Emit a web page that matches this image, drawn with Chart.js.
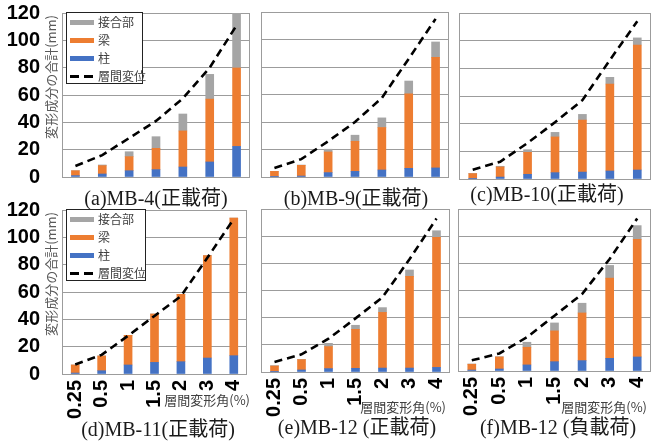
<!DOCTYPE html>
<html>
<head>
<meta charset="utf-8">
<script src="https://cdn.jsdelivr.net/npm/chart.js@4.4.1/dist/chart.umd.min.js"></script>
<style>
html,body{margin:0;padding:0;background:#fff}
#wrap{position:relative;width:652px;height:441px;overflow:hidden;background:#fff}
canvas{position:absolute;left:0;top:0}
.ttl{position:absolute;font-family:"Liberation Serif","Times New Roman","Noto Sans CJK JP",serif;font-size:20px;color:#1a1a1a;white-space:nowrap;transform:translate(-50%,-50%);line-height:1}
.xt{position:absolute;font-family:"Noto Sans CJK JP",sans-serif;font-size:13px;color:#404040;white-space:nowrap;line-height:16px;transform:translate(-100%,-50%)}
.yt{position:absolute;font-family:"Noto Sans CJK JP",sans-serif;font-size:13px;color:#595959;line-height:16px;white-space:nowrap;transform-origin:0 0;transform:rotate(-90deg) translateX(-100%)}
.lg{position:absolute;border:1px solid #222;background:#fff;box-sizing:border-box;font-family:"Noto Sans CJK JP",sans-serif;font-size:12px;color:#404040}
.lg .it{position:absolute;left:3px;height:18px;line-height:18px;white-space:nowrap}
.sw{display:inline-block;width:24px;height:5px;vertical-align:middle;margin-right:4px;position:relative;top:-1px}
.sw.dash{height:3px;background:repeating-linear-gradient(90deg,#000 0 9px,transparent 9px 14px)}
</style>
</head>
<body>
<div id="wrap"></div>
<script>
// Story drift angle (%) on the category axis
const categories = ['0.25', '0.5', '1', '1.5', '2', '3', '4'];
const seriesNames = ['柱', '梁', '接合部', '層間変位'];
const axisTitleY = '変形成分の合計(mm)';
const axisTitleX = '層間変形角(%)';
const panelTitles = ['(a)MB-4(正載荷)', '(b)MB-9(正載荷)', '(c)MB-10(正載荷)',
                     '(d)MB-11(正載荷)', '(e)MB-12 (正載荷)', '(f)MB-12 (負載荷)'];

// Deformation components (mm): column, beam, joint, and total story drift
const mb4Column = [1.0, 2.2, 4.6, 5.4, 7.3, 11.0, 22.4];
const mb4Beam   = [3.6, 6.1, 10.3, 15.6, 26.4, 46.0, 57.4];
const mb4Joint  = [0.0, 0.5, 3.6, 8.5, 12.4, 18.1, 41.2];
const mb4Drift  = [8.0, 16.0, 28.5, 41.0, 57.5, 80.0, 111.0];

const mb9Column = [0.5, 0.7, 3.2, 4.1, 5.1, 6.3, 6.6];
const mb9Beam   = [3.6, 7.8, 15.0, 21.9, 30.9, 54.2, 80.4];
const mb9Joint  = [0.0, 0.2, 2.0, 4.4, 7.0, 9.3, 11.2];
const mb9Drift  = [6.5, 13.0, 26.0, 40.0, 57.5, 86.0, 115.0];

const mb10Column = [0.5, 1.4, 3.4, 4.6, 5.0, 5.8, 6.5];
const mb10Beam   = [3.4, 7.3, 15.9, 25.8, 37.6, 62.9, 90.4];
const mb10Joint  = [0.1, 0.5, 1.9, 3.3, 4.1, 4.8, 5.1];
const mb10Drift  = [6.7, 12.5, 26.0, 41.0, 57.0, 86.0, 114.0];

const mb11Column = [0.7, 2.4, 6.6, 8.5, 9.0, 11.7, 13.4];
const mb11Beam   = [5.9, 10.8, 21.7, 35.4, 49.3, 74.9, 100.7];
const mb11Joint  = [0.0, 0.0, 0.0, 0.0, 0.0, 0.0, 0.0];
const mb11Drift  = [7.0, 14.0, 28.0, 42.5, 57.0, 85.0, 113.5];

const mb12PosColumn = [0.5, 1.5, 2.5, 2.7, 2.9, 2.9, 3.4];
const mb12PosBeam   = [3.9, 7.6, 16.2, 28.7, 41.0, 67.5, 95.7];
const mb12PosJoint  = [0.3, 0.2, 2.4, 3.0, 3.5, 4.7, 4.9];
const mb12PosDrift  = [7.4, 13.0, 24.5, 39.5, 55.0, 83.0, 113.0];

const mb12NegColumn = [0.7, 1.5, 4.5, 6.9, 7.7, 9.4, 10.4];
const mb12NegBeam   = [4.3, 8.9, 13.1, 22.8, 35.3, 59.4, 87.1];
const mb12NegJoint  = [0.2, 0.2, 3.7, 5.9, 7.2, 9.4, 10.2];
const mb12NegDrift  = [7.9, 13.0, 25.0, 41.0, 57.0, 83.0, 113.0];

const colors = ['#4472C4', '#ED7D31', '#A5A5A5', '#000000'];
const gridColor = '#9c9c9c';

// Plot-area placement of each small multiple (page pixels)
const panels = [
  {data: [mb4Column, mb4Beam, mb4Joint, mb4Drift],             L: 62,  T: 13,  R: 250, B: 177, yAxis: true,  xAxis: false, tx: 156, ty: 198},
  {data: [mb9Column, mb9Beam, mb9Joint, mb9Drift],             L: 261, T: 12,  R: 449, B: 177, yAxis: false, xAxis: false, tx: 356, ty: 198},
  {data: [mb10Column, mb10Beam, mb10Joint, mb10Drift],         L: 459, T: 13,  R: 651, B: 179, yAxis: false, xAxis: false, tx: 547, ty: 194},
  {data: [mb11Column, mb11Beam, mb11Joint, mb11Drift],         L: 62,  T: 210, R: 247, B: 374, yAxis: true,  xAxis: true,  tx: 158, ty: 429, xtRight: 250, xtY: 400},
  {data: [mb12PosColumn, mb12PosBeam, mb12PosJoint, mb12PosDrift], L: 261, T: 209, R: 450, B: 372, yAxis: false, xAxis: true, tx: 357, ty: 427, xtRight: 446, xtY: 407},
  {data: [mb12NegColumn, mb12NegBeam, mb12NegJoint, mb12NegDrift], L: 458, T: 209, R: 651, B: 371, yAxis: false, xAxis: true, tx: 558, ty: 427, xtRight: 647, xtY: 407}
];

// Thin box around the plot area
const framePlugin = {
  id: 'plotFrame',
  beforeDatasetsDraw(chart) {
    const a = chart.chartArea, ctx = chart.ctx;
    ctx.save();
    ctx.strokeStyle = gridColor;
    ctx.lineWidth = 1;
    ctx.strokeRect(Math.round(a.left) + 0.5, Math.round(a.top) + 0.5,
                   Math.round(a.right - a.left) - 1, Math.round(a.bottom - a.top));
    ctx.restore();
  }
};

const wrap = document.getElementById('wrap');
const tickFont = {family: '"Liberation Sans", Arial, sans-serif', size: 20, weight: 'bold'};

function el(cls, text, style) {
  const d = document.createElement('div');
  d.className = cls;
  if (text != null) d.textContent = text;
  Object.assign(d.style, style || {});
  wrap.appendChild(d);
  return d;
}

function buildLegend(left, top, width, height) {
  const box = el('lg', null, {left: left + 'px', top: top + 'px', width: width + 'px', height: height + 'px'});
  const order = [2, 1, 0, 3];
  order.forEach((si, k) => {
    const it = document.createElement('div');
    it.className = 'it';
    it.style.top = (k * 18) + 'px';
    const sw = document.createElement('span');
    sw.className = si === 3 ? 'sw dash' : 'sw';
    if (si !== 3) sw.style.background = colors[si];
    it.appendChild(sw);
    it.appendChild(document.createTextNode(seriesNames[si]));
    box.appendChild(it);
  });
}

panels.forEach((p, i) => {
  const canvas = document.createElement('canvas');
  canvas.width = 652; canvas.height = 441;
  wrap.appendChild(canvas);
  const yW = p.yAxis ? 62 : 0;
  const xH = p.xAxis ? 50 : 0;
  const bar = (k) => ({
    label: seriesNames[k], data: p.data[k], backgroundColor: colors[k],
    stack: 'parts', order: 1, barThickness: 8, borderWidth: 0
  });
  new Chart(canvas, {
    type: 'bar',
    data: {
      labels: categories,
      datasets: [bar(0), bar(1), bar(2), {
        type: 'line', label: seriesNames[3], data: p.data[3], stack: 'drift', order: 0,
        borderColor: '#000', borderWidth: 2.6, borderDash: [8, 5], pointRadius: 0,
        fill: false, tension: 0
      }]
    },
    options: {
      responsive: false, animation: false, events: [],
      layout: {padding: {left: p.L - yW, top: p.T, right: 652 - p.R, bottom: 441 - p.B - xH}},
      plugins: {legend: {display: false}, tooltip: {enabled: false}},
      scales: {
        x: {
          stacked: true,
          grid: {display: false, drawTicks: false},
          border: {display: false},
          ticks: {display: p.xAxis, autoSkip: false, minRotation: 90, maxRotation: 90,
                  padding: 6, color: '#000', font: tickFont},
          afterFit(s) { s.height = xH; s.paddingLeft = 0; s.paddingRight = 0; }
        },
        y: {
          stacked: true, min: 0, max: 120,
          grid: {color: gridColor, drawTicks: false},
          border: {display: false},
          ticks: {display: p.yAxis, stepSize: 20, padding: 22, color: '#000', font: tickFont},
          afterFit(s) { s.width = yW; s.paddingTop = 0; s.paddingBottom = 0; }
        }
      }
    },
    plugins: [framePlugin]
  });

  el('ttl', panelTitles[i], {left: p.tx + 'px', top: p.ty + 'px'});
  if (p.xAxis) el('xt', axisTitleX, {left: p.xtRight + 'px', top: p.xtY + 'px'});
  if (p.yAxis) {
    el('yt', axisTitleY, {left: '43px', top: (p.T + 2) + 'px'});
    buildLegend(66, p.T - 1, p.T > 100 ? 80 : 77, 72);
  }
});
</script>
</body>
</html>
